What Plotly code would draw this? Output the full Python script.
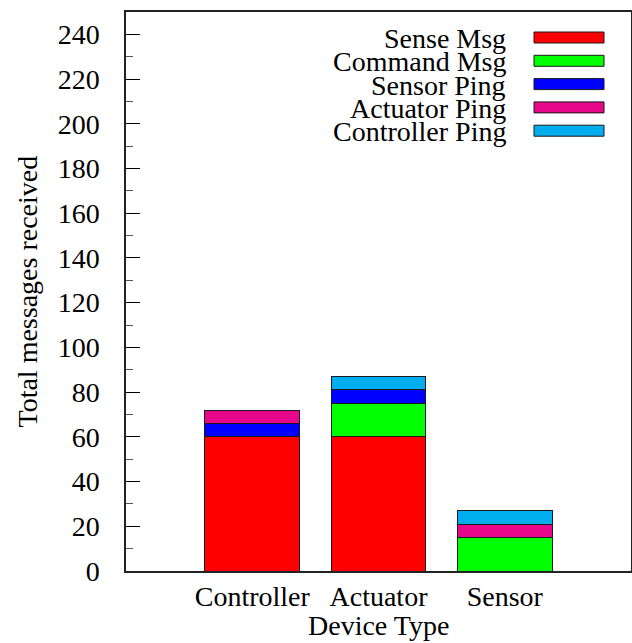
import plotly.graph_objects as go

# Message counts per receiving device type
devices = ["Controller", "Actuator", "Sensor"]
series_names = ["Sense Msg", "Command Msg", "Sensor Ping", "Actuator Ping", "Controller Ping"]
sense_msg = [60, 60, 0]
command_msg = [0, 15, 15]
sensor_ping = [6, 6, 0]
actuator_ping = [6, 0, 6]
controller_ping = [0, 6, 6]
series_colors = ["#ff0000", "#00ff00", "#0000ff", "#e6078a", "#00aeef"]
y_ticks = list(range(0, 241, 20))
x_title = "Device Type"
y_title = "Total messages received"

series_values = [sense_msg, command_msg, sensor_ping, actuator_ping, controller_ping]

W, H = 632, 643
ML, MR, MT, MB = 126, 1, 12, 72
FONT = "Times New Roman"
FS = 28


def serif():
    return dict(family=FONT, size=FS, color="black")


fig = go.Figure()
for name, vals, col in zip(series_names, series_values, series_colors):
    fig.add_trace(go.Bar(
        x=devices, y=vals, name=name, width=0.75,
        marker=dict(color=col, line=dict(color="#1a1a1a", width=1)),
        showlegend=False,
    ))

# Axis titles
fig.add_annotation(text=x_title, xref="paper", yref="paper", x=0.5, y=0,
                   xanchor="center", yanchor="middle", yshift=-54,
                   showarrow=False, font=serif())
fig.add_annotation(text=y_title, xref="paper", yref="paper", x=0, y=0.5,
                   xanchor="center", yanchor="middle", xshift=-99, textangle=-90,
                   showarrow=False, font=serif())

# Key drawn at top right: right-aligned labels with colour swatches
pw, ph = W - ML - MR, H - MT - MB
def px_x(p):
    return (p - ML) / pw
def px_y(p):
    return (H - MB - p) / ph

row_y = [37.5, 60.8, 84.1, 107.4, 130.7]
for name, col, cy in zip(series_names, series_colors, row_y):
    fig.add_shape(type="rect", xref="paper", yref="paper",
                  x0=px_x(534), x1=px_x(604), y0=px_y(cy + 5.5), y1=px_y(cy - 5.5),
                  fillcolor=col, line=dict(color="#1a1a1a", width=1))
    fig.add_annotation(text=name, xref="paper", yref="paper",
                       x=px_x(508), y=px_y(cy + 1), xanchor="right", yanchor="middle",
                       showarrow=False, font=serif())

fig.update_layout(
    template="none",
    width=W, height=H,
    margin=dict(l=ML, r=MR, t=MT, b=MB),
    paper_bgcolor="white", plot_bgcolor="white",
    barmode="stack", bargap=0.25,
    font=serif(),
)
fig.update_xaxes(
    range=[-1, 3], showgrid=False, ticks="", showticklabels=True,
    tickfont=serif(),
    showline=True, linecolor="#222", linewidth=1.5, mirror=True,
)
fig.update_yaxes(
    range=[0, 250], tickvals=y_ticks, showgrid=False, zeroline=False,
    showticklabels=True, tickfont=serif(), ticklabelstandoff=19,
    ticks="inside", ticklen=14, tickwidth=1.2, tickcolor="black",
    minor=dict(ticks="inside", ticklen=7, dtick=10, tickcolor="#555", tickwidth=1.2),
    showline=True, linecolor="#222", linewidth=1.5, mirror=True,
)

fig.write_html("out.html")
